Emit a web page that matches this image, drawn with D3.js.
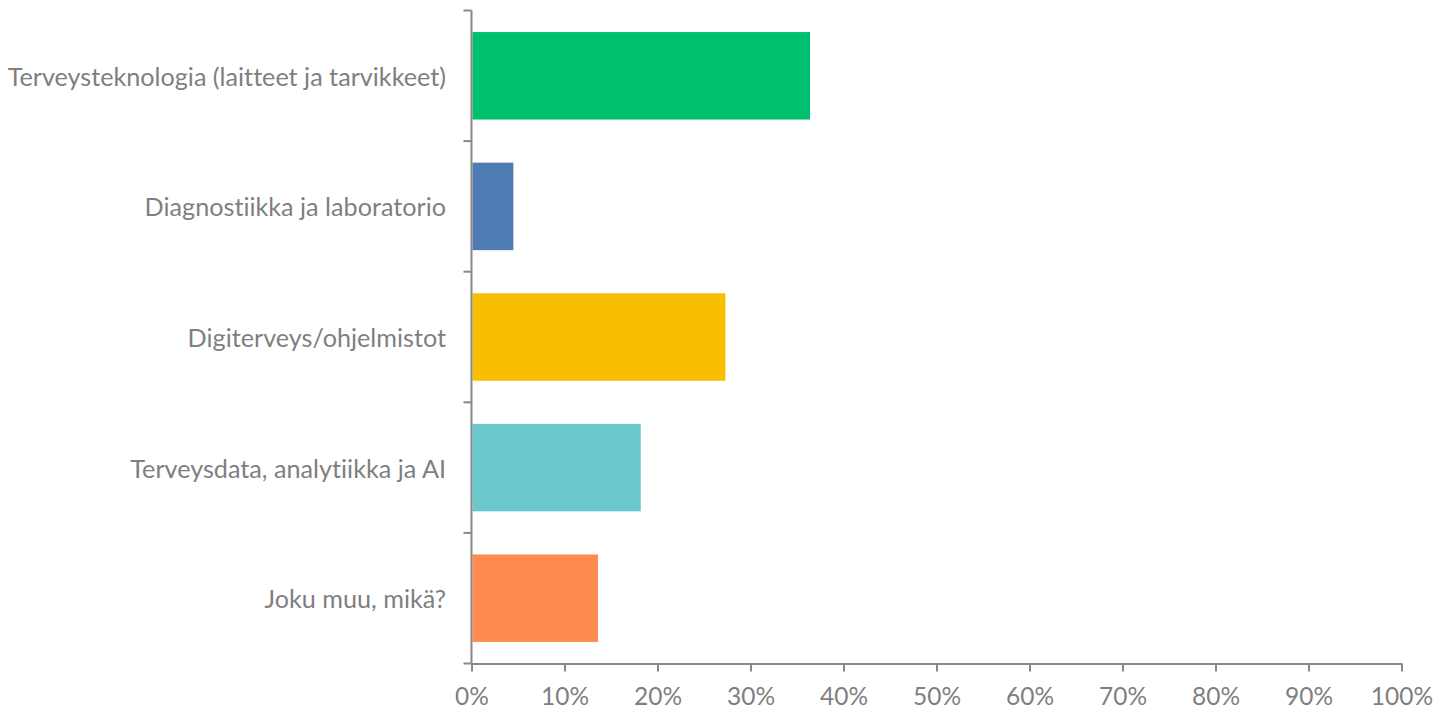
<!DOCTYPE html>
<html><head><meta charset="utf-8">
<script src="https://cdn.jsdelivr.net/npm/d3@7"></script>
<style>html,body{margin:0;padding:0;background:#fff;} text{font-variant-ligatures:none;font-feature-settings:"liga" 0,"dlig" 0;}</style>
</head><body>
<svg id="c" width="1435" height="709"></svg>
<script>
const categories = ["Terveysteknologia (laitteet ja tarvikkeet)","Diagnostiikka ja laboratorio","Digiterveys/ohjelmistot","Terveysdata, analytiikka ja AI","Joku muu, mikä?"];
const values = [36.4, 4.5, 27.3, 18.2, 13.6];
const colors = ["#00BF6F","#507CB6","#F7BF00","#6BC8CD","#FF8B4F"];
const xTicks = [0,10,20,30,40,50,60,70,80,90,100];

(function(){
const svg = d3.select("#c");
const mL = 471.5, mR = 1401.5, mT = 10.5, mB = 663.5;
const font = "Lato, 'Open Sans', sans-serif";
const textColor = "#7F7F7F", axisColor = "#888888";

const x = d3.scaleLinear().domain([0,100]).range([mL,mR]);
const y = d3.scaleBand().domain(categories).range([mT,mB]).paddingInner(0.33).paddingOuter(0.165);

svg.append("g").selectAll("rect").data(categories).join("rect")
  .attr("x", x(0)+1).attr("y", d=>y(d))
  .attr("width", (d,i)=>x(values[i])-x(0)-1)
  .attr("height", y.bandwidth())
  .attr("fill", (d,i)=>colors[i]);

const xa = svg.append("g").attr("transform",`translate(0,${mB})`)
  .call(d3.axisBottom(x).tickValues(xTicks).tickFormat(d=>d+"%").tickSize(8).tickSizeOuter(0));
xa.select(".domain").attr("stroke",axisColor).attr("stroke-width",2);
xa.selectAll(".tick line").attr("stroke",axisColor).attr("stroke-width",2);
xa.selectAll(".tick text").attr("fill",textColor).attr("font-family",font).attr("font-size",24.5)
  .attr("y",32).attr("dy",0).attr("dominant-baseline","central");

const step = (mB-mT)/categories.length;
svg.append("line").attr("x1",mL).attr("x2",mL).attr("y1",mT).attr("y2",mB).attr("stroke",axisColor).attr("stroke-width",2);
svg.append("g").selectAll("line").data(d3.range(categories.length+1)).join("line")
  .attr("x1",mL-8).attr("x2",mL).attr("y1",i=>mT+i*step).attr("y2",i=>mT+i*step)
  .attr("stroke",axisColor).attr("stroke-width",2);

svg.append("g").selectAll("text").data(categories).join("text")
  .attr("x", 446).attr("y", d=>y(d)+y.bandwidth()/2)
  .attr("text-anchor","end").attr("dominant-baseline","central")
  .attr("fill",textColor).attr("font-family",font).attr("font-size",25.2)
  .text(d=>d);
})();
</script>
</body></html>
